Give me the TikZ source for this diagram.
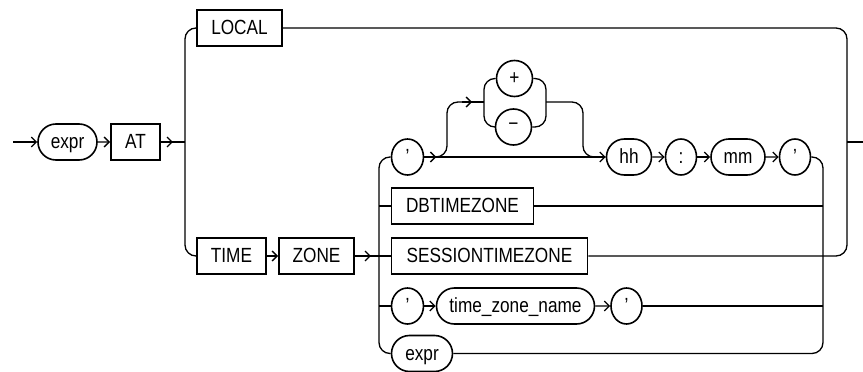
\documentclass[tikz,border=0pt]{standalone}
\usepackage{fontspec}
\setmainfont{Liberation Sans}[FakeStretch=0.84]
\usetikzlibrary{arrows.meta, shapes.misc, shapes.geometric}

\begin{document}
\begin{tikzpicture}[
    x=1pt, y=-1pt,
    font=\fontsize{20.5}{24}\selectfont,
    line width=1.3pt,
    kw/.style={draw, rectangle, line width=1.9pt, minimum height=36pt, inner sep=0pt, text height=15pt, text depth=1.6pt},
    var/.style={draw, rounded rectangle, line width=1.6pt, minimum height=36pt, inner sep=0pt, text height=15pt, text depth=1.6pt},
    sym/.style={draw, ellipse, line width=1.6pt, minimum width=32pt, minimum height=36pt, inner sep=0pt, text height=15pt, text depth=1.6pt},
    sign/.style={draw, circle, line width=1.6pt, minimum size=36pt, inner sep=0pt},
    arrow/.style={-{Straight Barb[length=5pt, width=10pt]}},
    rail/.style={rounded corners=11pt}
]
\useasboundingbox (0,0) rectangle (863,372);

% nodes
\node[var, minimum width=59pt] (expr) at (67.5,142) {expr};
\node[kw, minimum width=49pt] (at) at (135.5,142) {AT};
\node[kw, minimum width=85pt] (local) at (239.5,28) {LOCAL};
\node[kw, minimum width=69pt] (time) at (231.5,256) {TIME};
\node[kw, minimum width=75pt] (zone) at (316.5,256) {ZONE};

\node[sym] (q1) at (407.5,157) {'};
\node[sign] (plus) at (514.5,78.5) {+};
\node[sign] (minus) at (513.5,127) {−};
\node[var, minimum width=45pt] (hh) at (629,157) {hh};
\node[sym, minimum width=31pt] (colon) at (681,157) {:};
\node[var, minimum width=54pt] (mm) at (738,157) {mm};
\node[sym, minimum width=31pt] (q2) at (795,157) {'};

\node[kw, minimum width=142pt] (dbtz) at (462.5,206) {DBTIMEZONE};
\node[kw, minimum width=196pt] (sesstz) at (489.5,256) {SESSIONTIMEZONE};

\node[sym] (q3) at (407.5,306) {'};
\node[var, minimum width=158pt] (tzname) at (515.5,306) {time\_zone\_name};
\node[sym, minimum width=31pt] (q4) at (626.5,306) {'};
\node[var, minimum width=61pt] (expr2) at (422,353.5) {expr};

% junctions
\coordinate (start) at (13,142);
\coordinate (lsplit) at (185,142);
\coordinate (rjoin) at (847,142);
\coordinate (exit) at (863,142);
\coordinate (isplit) at (379,256);
\coordinate (ijoin) at (823,256);
\coordinate (optfrom) at (437,157);
\coordinate (optup) at (447,102);
\coordinate (signl) at (484,102);
\coordinate (signr) at (546,102);
\coordinate (optdown) at (583,102);

% main line
\draw[arrow] (start) -- (expr);
\draw[arrow] (expr) -- (at);
\draw[arrow] (at.east) -- ++(12,0);
\draw (at) -- (lsplit);

% outer choice
\draw[rail] (local.west) -| (lsplit) |- (time.west);
\draw[rail] (local.east) -| (rjoin) |- (sesstz.east);
\draw (rjoin) -- (exit);
\draw[arrow] (time) -- (zone);
\draw[arrow] (zone.east) -- ++(16,0);
\draw (zone) -- (isplit);

% inner choice
\draw[rail] (q1.west) -| (isplit) |- (expr2.west);
\draw (isplit |- dbtz) -- (dbtz);
\draw (isplit) -- (sesstz);
\draw (isplit |- q3) -- (q3);
\draw[rail] (q2.east) -| (ijoin) |- (expr2.east);
\draw (dbtz) -- (ijoin |- dbtz);
\draw (q4) -- (ijoin |- q4);

% offset row
\draw[arrow] (q1.east) -- ++(12,0);
\draw[arrow] (q1) -- (hh);
\draw[arrow] (hh) -- (colon);
\draw[arrow] (colon) -- (mm);
\draw[arrow] (mm) -- (q2);

% optional sign
\draw[rail, arrow] (optfrom) -| (optup) -- ++(25,0);
\draw (optup) ++(15,0) -- (signl);
\draw[rail] (plus.west) -| (signl) |- (minus.west);
\draw[rail] (plus.east) -| (signr) |- (minus.east);
\draw[rail] (signr) -- (optdown) |- (hh.west);

% named zone
\draw[arrow] (q3) -- (tzname);
\draw[arrow] (tzname) -- (q4);

\end{tikzpicture}
\end{document}
